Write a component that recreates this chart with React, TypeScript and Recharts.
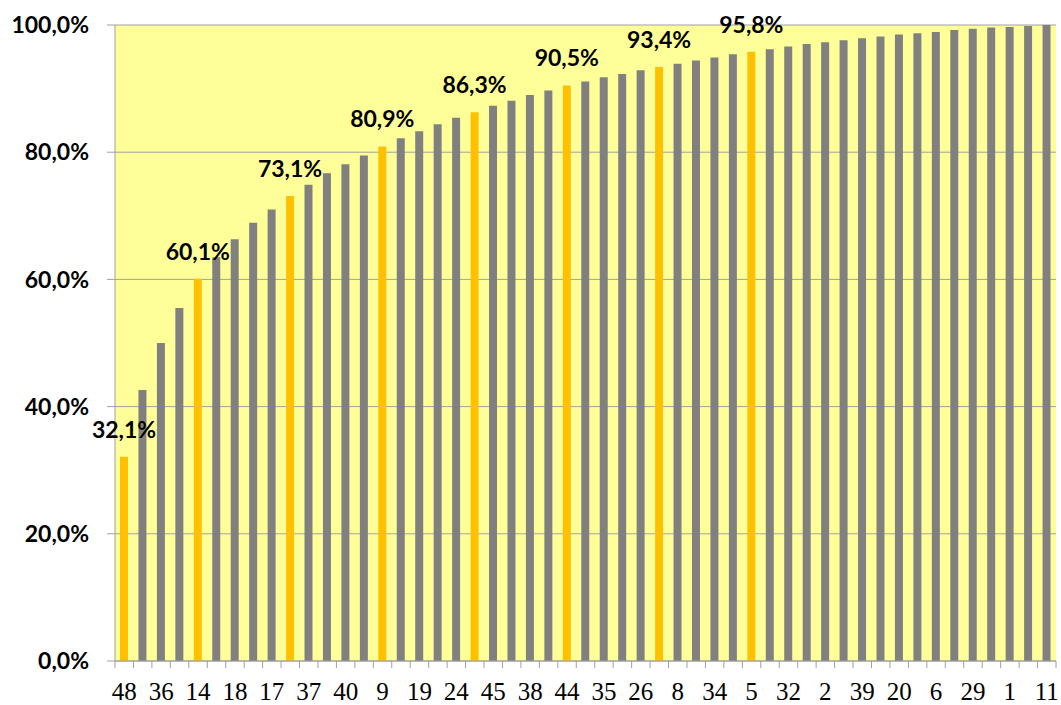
import React from 'react';
import { BarChart, Bar, XAxis, YAxis, CartesianGrid, Cell, LabelList } from 'recharts';

// Category labels (odd positions are hidden in the reference axis)
const categories: string[] = [
  '48', '3', '36', '4', '14', '7', '18', '10', '17', '12', '37', '13', '40', '15', '9', '16',
  '19', '21', '24', '22', '45', '23', '38', '25', '44', '27', '35', '28', '26', '30', '8', '31',
  '34', '33', '5', '41', '32', '42', '2', '43', '39', '46', '20', '47', '6', '49', '29', '50',
  '1', '51', '11',
];

// Cumulative share, in %
const values: number[] = [
  32.1, 42.6, 50.0, 55.5, 60.1, 63.5, 66.3, 68.9, 71.0, 73.1, 74.9, 76.7, 78.1, 79.5, 80.9, 82.2,
  83.3, 84.4, 85.4, 86.3, 87.3, 88.1, 89.0, 89.7, 90.5, 91.1, 91.8, 92.3, 92.9, 93.4, 93.9, 94.4,
  94.9, 95.4, 95.8, 96.2, 96.6, 97.0, 97.3, 97.6, 97.9, 98.2, 98.5, 98.7, 98.9, 99.2, 99.4, 99.6,
  99.7, 99.85, 100.0,
];

// Positions (0-based) of the highlighted, labelled bars
const highlighted: number[] = [0, 4, 9, 14, 19, 24, 29, 34];

const yTicks: number[] = [0, 20, 40, 60, 80, 100];

const GRAY = '#808080';
const ORANGE = '#FFC000';
const AXIS = '#A0A0A0';
const PLOT_BG = '#FFFF99';
const SANS = "Lato, 'Open Sans', sans-serif";
const SERIF = "'Liberation Serif', 'Times New Roman', serif";

const fmt = (v: number) => `${v.toFixed(1).replace('.', ',')}%`;

const data = categories.map((c, i) => ({
  cat: c,
  value: values[i],
  label: highlighted.includes(i) ? fmt(values[i]) : '',
}));

const XTick = (props: any) => {
  const { x, y, payload, index } = props;
  const half = payload && typeof payload.offset === 'number' && payload.offset > 0 ? payload.offset : 9.22;
  const idx = typeof index === 'number' ? index : payload?.index ?? 0;
  return (
    <g>
      <line x1={x - half} x2={x - half} y1={y} y2={y + 7} stroke={AXIS} strokeWidth={1} />
      {idx === categories.length - 1 && (
        <line x1={x + half} x2={x + half} y1={y} y2={y + 7} stroke={AXIS} strokeWidth={1} />
      )}
      {idx % 2 === 0 && (
        <text x={x} y={y + 39} textAnchor="middle" fontFamily={SERIF} fontSize={25} fill="#000">
          {payload.value}
        </text>
      )}
    </g>
  );
};

const renderLabel = (props: any) => {
  const { value } = props;
  if (!value) return null;
  const vb = props.viewBox || {};
  const x = typeof props.x === 'number' ? props.x : vb.x;
  const y = typeof props.y === 'number' ? props.y : vb.y;
  const w = typeof props.width === 'number' ? props.width : vb.width;
  return (
    <text
      x={x + w / 2}
      y={y - 19}
      textAnchor="middle"
      fontFamily={SANS}
      fontWeight={700}
      fontSize={23}
      fill="#000"
    >
      {value}
    </text>
  );
};

export default function App() {
  return (
    <div style={{ position: 'absolute', left: 0, top: 0, width: 1061, height: 705, background: '#fff' }}>
      <BarChart
        width={1061}
        height={705}
        data={data}
        margin={{ top: 25, right: 5, left: 0, bottom: 0 }}
        barSize={8}
      >
        <CartesianGrid vertical={false} stroke={AXIS} fill={PLOT_BG} fillOpacity={1} />
        <XAxis
          dataKey="cat"
          height={44}
          interval={0}
          tickLine={false}
          tickSize={0}
          tickMargin={0}
          axisLine={{ stroke: AXIS }}
          tick={<XTick />}
        />
        <YAxis
          width={115}
          domain={[0, 100]}
          ticks={yTicks}
          interval={0}
          tickFormatter={fmt}
          tickSize={8}
          tickMargin={18}
          tickLine={{ stroke: AXIS }}
          axisLine={{ stroke: AXIS }}
          tick={{ fontFamily: SANS, fontWeight: 700, fontSize: 23, fill: '#000' }}
        />
        <Bar dataKey="value" isAnimationActive={false}>
          {data.map((d, i) => (
            <Cell key={d.cat + '-' + i} fill={highlighted.includes(i) ? ORANGE : GRAY} />
          ))}
          <LabelList dataKey="label" content={renderLabel} />
        </Bar>
      </BarChart>
    </div>
  );
}
